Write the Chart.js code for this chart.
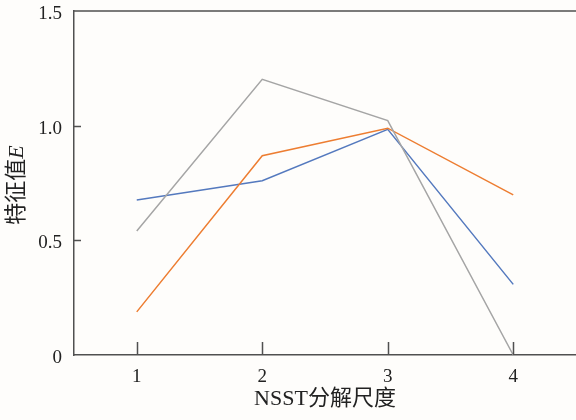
<!DOCTYPE html>
<html>
<head>
<meta charset="utf-8">
<script src="https://cdn.jsdelivr.net/npm/chart.js@4.4.1/dist/chart.umd.min.js"></script>
<style>
  html, body { margin: 0; padding: 0; background: #fefdfb; }
  canvas { display: block; }
</style>
</head>
<body>
<canvas id="Line-Chart" width="576" height="420"></canvas>
<script>
let scales1 = [1, 2, 3, 4];
let grayE = [0.541, 1.202, 1.022, 0.0];
let orangeE = [0.188, 0.869, 0.989, 0.698];
let blueE = [0.676, 0.760, 0.984, 0.308];
let yTicks = [0, 0.5, 1.0, 1.5];
let colors1 = ['#A5A5A5', '#ED7D31', '#5479BE'];

let serif = '"Liberation Serif", "Times New Roman", "Noto Sans CJK SC", serif';
let axisColor = '#505050';

function pts(vals) {
    return vals.map((v, i) => ({ x: scales1[i], y: v }));
}

// inward ticks, top frame line, y title with italic E
let frame = {
    id: 'frame',
    afterDraw(chart) {
        let ctx = chart.ctx;
        let x = chart.scales.x, y = chart.scales.y;
        let a = chart.chartArea;
        ctx.save();
        ctx.strokeStyle = axisColor;
        ctx.lineWidth = 1.5;
        ctx.beginPath();
        ctx.moveTo(a.left, a.top);
        ctx.lineTo(a.right, a.top);
        scales1.forEach(v => {
            let px = Math.round(x.getPixelForValue(v)) + 0.5;
            ctx.moveTo(px, a.bottom);
            ctx.lineTo(px, a.bottom - 13);
        });
        [0.5, 1.0].forEach(v => {
            let py = Math.round(y.getPixelForValue(v)) + 0.5;
            ctx.moveTo(a.left, py);
            ctx.lineTo(a.left + 7, py);
        });
        ctx.stroke();

        ctx.translate(17, 185);
        ctx.rotate(-Math.PI / 2);
        ctx.fillStyle = '#222';
        ctx.textBaseline = 'middle';
        let f1 = '22px ' + serif, f2 = 'italic 22px ' + serif;
        ctx.font = f1;
        let w1 = ctx.measureText('特征值').width;
        ctx.font = f2;
        let w2 = ctx.measureText('E').width;
        let x0 = -(w1 + w2) / 2;
        ctx.font = f1;
        ctx.textAlign = 'left';
        ctx.fillText('特征值', x0, 0);
        ctx.font = f2;
        ctx.fillText('E', x0 + w1, 0);
        ctx.restore();
    }
};

let myChart1 = document.getElementById('Line-Chart').getContext('2d');

let chart1 = new Chart(myChart1, {
    type: 'line',
    data: {
        datasets: [
            { data: pts(grayE), borderColor: colors1[0] },
            { data: pts(orangeE), borderColor: colors1[1] },
            { data: pts(blueE), borderColor: colors1[2] }
        ]
    },
    options: {
        responsive: false,
        animation: false,
        layout: { padding: 0 },
        elements: {
            line: { borderWidth: 1.5, tension: 0, fill: false },
            point: { radius: 0 }
        },
        plugins: { legend: { display: false }, tooltip: { enabled: false } },
        scales: {
            x: {
                type: 'linear',
                min: 0.5,
                max: 4.5,
                grid: { display: false, drawTicks: false },
                border: { display: true, color: axisColor, width: 1.5 },
                afterBuildTicks: s => { s.ticks = scales1.map(v => ({ value: v })); },
                afterFit: s => { s.height = 65; s.paddingLeft = 0; s.paddingRight = 0; },
                ticks: {
                    padding: 11,
                    color: '#222',
                    maxRotation: 0,
                    font: { family: serif, size: 19 },
                    callback: v => String(v)
                },
                title: {
                    display: true,
                    text: 'NSST分解尺度',
                    color: '#222',
                    font: { family: serif, size: 22 },
                    padding: { top: 0, bottom: 8 }
                }
            },
            y: {
                min: 0,
                max: 1.5,
                grid: { display: false, drawTicks: false },
                border: { display: true, color: axisColor, width: 1.5 },
                afterBuildTicks: s => { s.ticks = yTicks.map(v => ({ value: v })); },
                afterFit: s => { s.width = 74; s.paddingTop = 11; s.paddingBottom = 0; },
                ticks: {
                    padding: 12,
                    labelOffset: 3,
                    color: '#222',
                    font: { family: serif, size: 19 },
                    callback: v => v === 0 ? '0' : v.toFixed(1)
                }
            }
        }
    },
    plugins: [frame]
});
</script>
</body>
</html>
